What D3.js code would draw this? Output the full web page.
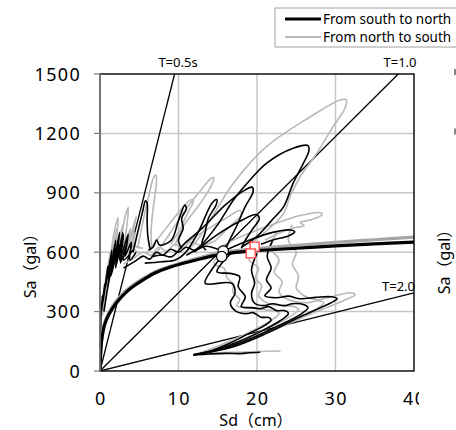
<!DOCTYPE html>
<html lang="en">
<head>
  <meta charset="UTF-8" />
  <title>Capacity spectrum</title>
  <script src="https://d3js.org/d3.v7.min.js"></script>
  <style>
    body { margin: 0; background: #fff; }
    svg { display: block; font-family: "Noto Sans", "Noto Sans CJK JP", sans-serif; }
    .grid line { stroke: #c6c6c6; stroke-width: 1.5; }
    .thin { fill: none; stroke-width: 1.6; stroke-linejoin: round; }
    .num { letter-spacing: 1.3px; }
  </style>
</head>
<body>
  <svg width="456" height="430"></svg>
  <script>
    // Axis ticks
    const sdTicks = [0, 10, 20, 30, 40];
    const saTicks = [0, 300, 600, 900, 1200, 1500];

    // Constant-period lines (s) and their labels
    const periods = [0.5, 1.0, 2.0];
    const periodLabels = ["T=0.5s", "T=1.0", "T=2.0"];

    // Capacity curves [Sd cm, Sa gal]
    const capSouthNorth = [[0,0],[0.2,150],[0.6,235],[1.2,290],[2,340],[3,385],[4,420],[5.5,460],[7,495],[9,525],[11,548],[13,568],[15.6,590],[20,608],[25,620],[30,632],[35,642],[40,651]];
    const capNorthSouth = [[0,0],[0.2,160],[0.6,245],[1.2,300],[2,350],[3,395],[4,428],[5.5,468],[7,500],[9,530],[11,553],[13,575],[15.6,600],[20,618],[25,635],[30,650],[35,663],[40,676]];

    // Response traces, south to north (black)
    const blackTraces = [
      [[0,0],[0.05,120],[0.1,260],[0.15,330],[0.05,250],[0.3,380],[0.2,300],[0.6,440],[0.4,350],[1.0,530],[0.7,420],[1.5,610],[1.1,470],[2.0,660],[1.5,500],[2.5,700],[2.0,530],[3.0,690],[2.6,545],[3.4,640],[3.0,560],[4.2,610]],
      [[0.5,300],[1.2,480],[0.9,400],[1.8,600],[1.4,480],[2.4,640],[2.0,520],[2.9,700],[2.5,560],[3.6,690],[3.2,580],[4.0,650],[3.8,560],[4.6,600]],
      [[3,520],[4.5,555],[5.5,580],[6.3,565],[7.2,600],[8,585],[9,615],[10,600],[11,625],[12,610],[13.5,630],[15,615]],
      [[4.2,600],[4.8,700],[5.4,800],[5.8,860],[6.0,850],[6.0,760],[6.1,680],[6.4,610]],
      [[6.2,611],[6.8,628],[7.2,662],[7.6,636],[9.1,662],[10.0,760],[10.8,838],[11.0,820],[10.4,770],[10.6,720],[10.0,660],[10.4,620]],
      [[5.7,545],[7.9,552],[9.6,561],[10.8,594],[12.5,700],[14.3,850],[14.9,865],[14.8,840],[13.8,770],[13.4,700],[13.0,640],[13.5,610]],
      [[6.6,577],[7.9,586],[9.1,577],[10.8,645],[13,720],[16,840],[18.5,915],[19.4,928],[19.5,905],[18.5,830],[17.5,740],[16.5,660],[16.0,615]],
      [[12,600],[15,690],[18,760],[19.9,790],[20.3,770],[19.5,720],[18.5,660],[18.0,620]],
      [[11,585],[12.7,628],[15,740],[17,864],[19,960],[21.2,1049],[24.6,1125],[26.5,1138],[26.6,1110],[25.9,1049],[24.6,948],[23.4,830],[21.9,762],[20,680],[18,625]],
      [[16,610],[19,660],[22,700],[24.3,712],[24.8,703],[24,682],[22,662],[20.5,640]],
      [[16.0,600],[14.2,510],[13.4,443],[16.8,443],[17.2,393],[16.6,343],[17.4,300],[18.7,290],[19.5,295],[20.5,272],[21.5,270],[21.8,258],[21.0,230],[19.0,190],[16.5,140],[14,100],[11.9,82]],
      [[16.8,600],[14.9,501],[16.6,493],[17.8,476],[17.6,426],[18.5,375],[18.0,325],[19.3,320],[20.5,315],[21.5,325],[22.5,305],[23.5,305],[24.0,290],[23,255],[20.5,200],[17.5,145],[14.5,105],[11.9,82]],
      [[20,594],[19.3,510],[19.7,443],[19.3,392],[19.7,342],[20.8,330],[22,340],[23.5,330],[24.5,340],[26,335],[26.5,320],[25.5,285],[22.5,225],[19,160],[15.5,110],[11.9,82]],
      [[22,660],[21.3,580],[21.8,520],[21.2,460],[21.8,420],[21,380],[22.5,370],[24,378],[25.5,365],[27.5,372],[29.5,375],[30.2,365],[29.3,342],[25.5,274],[21.2,190],[17,123],[11.9,81]],
      [[11.9,81],[14,86],[16,89],[18,88],[19,92],[20.4,95]]
    ];

    // Response traces, north to south (grey)
    const greyTraces = [
      [[0,0],[0.1,200],[0.2,320],[0.1,260],[0.5,420],[0.3,340],[0.9,520],[0.6,420],[1.3,600],[0.9,460],[1.8,700],[2.3,775],[2.2,700],[1.8,540],[2.6,650],[3.2,780],[3.6,825],[3.5,760],[3.1,600],[3.8,640],[4.5,700],[4.2,620],[5.0,600]],
      [[0.3,280],[0.8,450],[0.6,380],[1.6,640],[1.2,500],[2.1,720],[1.8,560],[2.9,740],[2.4,580],[3.9,720],[3.4,600],[4.6,780],[4.2,640],[5.5,620]],
      [[3,540],[4.5,575],[5.5,600],[6.5,585],[7.5,625],[8.5,605],[9.5,640],[10.5,620],[11.5,650],[13,635],[14.5,655]],
      [[4.8,620],[5.5,760],[6.2,880],[6.8,975],[7.1,990],[7.2,960],[6.9,860],[6.6,760],[6.5,680],[6.6,620]],
      [[6,600],[8,700],[10,800],[11.6,865],[11.9,860],[11.2,800],[10.5,740],[10,680],[9.5,630]],
      [[7,585],[9,700],[11,820],[13,920],[14.2,975],[14.5,975],[14.1,930],[13,860],[11.5,780],[10,700],[9,640]],
      [[10,620],[13,700],[16,770],[17.8,810],[18,790],[16.8,740],[15.5,690],[14.5,650]],
      [[11,600],[12.7,678],[17,948],[21.2,1133],[26.8,1284],[30.6,1369],[31.4,1369],[31.2,1327],[29.7,1234],[27.6,1099],[25.5,981],[24.2,880],[23.4,796],[21,700],[19,640]],
      [[15,620],[18,680],[22,740],[25.5,785],[28,800],[28.3,790],[27,765],[25.5,750],[26,735],[24.5,720],[23,700],[21,660]],
      [[15.5,610],[14.5,540],[15.8,520],[16.2,470],[17.0,440],[16.9,400],[17.8,360],[17.4,330],[18.6,320],[19.8,318],[21,310],[22.3,305],[22.8,290],[21.8,255],[19.5,205],[16.5,150],[14,110],[12.2,85]],
      [[19.5,640],[19.0,560],[20.2,520],[19.8,470],[20.6,430],[20.2,380],[21.0,350],[22,335],[23.5,330],[24.8,325],[25.3,310],[24,270],[21,210],[17.5,150],[14.5,108],[12.2,85]],
      [[22.5,700],[21.8,620],[22.8,560],[22.2,500],[23.2,450],[22.8,400],[23.5,370],[25,350],[26.5,345],[27.8,355],[28.5,345],[27.5,310],[24,245],[20,180],[16,125],[12.2,85]],
      [[24.5,740],[24,660],[25,600],[24.5,540],[25.3,480],[25,420],[26,380],[27.5,360],[29,370],[30.5,385],[32,395],[32.5,385],[31,355],[27,290],[22,205],[17,130],[12.2,85]],
      [[12.2,85],[15,92],[18,95],[20,98],[23,101]]
    ];

    // Performance points
    const circlePoints = [[15.7,606],[15.5,578]];
    const squarePoints = [[19.7,628],[19.2,594]];

    const svg = d3.select("svg");
    const mLeft = 100, mRight = 414, mTop = 74, mBottom = 371;

    const x = d3.scaleLinear().domain([0, 40]).range([mLeft, mRight]);
    const y = d3.scaleLinear().domain([0, 1500]).range([mBottom, mTop]);

    svg.append("defs").append("clipPath").attr("id", "plot")
      .append("rect").attr("x", mLeft).attr("y", mTop)
      .attr("width", mRight - mLeft).attr("height", mBottom - mTop);

    // Grid lines
    const grid = svg.append("g").attr("class", "grid");
    grid.selectAll("line.v").data(sdTicks.slice(1, -1)).enter().append("line")
      .attr("x1", d => x(d)).attr("x2", d => x(d)).attr("y1", mTop).attr("y2", mBottom);
    grid.selectAll("line.h").data(saTicks.slice(1, -1)).enter().append("line")
      .attr("x1", mLeft).attr("x2", mRight).attr("y1", d => y(d)).attr("y2", d => y(d));

    const plot = svg.append("g").attr("clip-path", "url(#plot)");

    // Period lines: Sa = (2*pi/T)^2 * Sd
    periods.forEach(T => {
      const w2 = Math.pow(2 * Math.PI / T, 2);
      const sdEnd = Math.min(40, 1500 / w2);
      plot.append("line")
        .attr("x1", x(0)).attr("y1", y(0))
        .attr("x2", x(sdEnd)).attr("y2", y(sdEnd * w2))
        .attr("stroke", "#000").attr("stroke-width", 1.3);
    });

    const line = d3.line()
      .x(d => x(d[0])).y(d => y(d[1]))
      .curve(d3.curveCatmullRom.alpha(0.5));

    plot.selectAll("path.grey").data(greyTraces).enter().append("path")
      .attr("class", "thin").attr("stroke", "#b8b8b8").attr("d", line);
    plot.selectAll("path.black").data(blackTraces).enter().append("path")
      .attr("class", "thin").attr("stroke", "#000").attr("d", line);

    // Capacity curves
    plot.append("path").datum(capNorthSouth).attr("fill", "none")
      .attr("stroke", "#a6a6a6").attr("stroke-width", 3.2).attr("d", line);
    plot.append("path").datum(capSouthNorth).attr("fill", "none")
      .attr("stroke", "#000").attr("stroke-width", 3.2).attr("d", line);

    // Markers
    plot.selectAll("circle.pt").data(circlePoints).enter().append("circle")
      .attr("cx", d => x(d[0])).attr("cy", d => y(d[1])).attr("r", 5.2)
      .attr("fill", "#fff").attr("stroke", "#000").attr("stroke-width", 1.2);
    plot.selectAll("rect.pt").data(squarePoints).enter().append("rect")
      .attr("x", d => x(d[0]) - 4.5).attr("y", d => y(d[1]) - 4.5)
      .attr("width", 9).attr("height", 9)
      .attr("fill", "#fff").attr("stroke", "#ff5050").attr("stroke-width", 1.4);

    // Frame
    svg.append("rect").attr("x", mLeft).attr("y", mTop)
      .attr("width", mRight - mLeft).attr("height", mBottom - mTop)
      .attr("fill", "none").attr("stroke", "#000").attr("stroke-width", 1.4);
    svg.append("line").attr("x1", mLeft).attr("x2", mLeft).attr("y1", mTop).attr("y2", mBottom)
      .attr("stroke", "#7f7f7f").attr("stroke-width", 1.6);

    // Y ticks and labels
    svg.selectAll("line.ytick").data(saTicks).enter().append("line")
      .attr("x1", mLeft - 6).attr("x2", mLeft).attr("y1", d => y(d)).attr("y2", d => y(d))
      .attr("stroke", "#7f7f7f").attr("stroke-width", 1.2);
    svg.selectAll("text.ylab").data(saTicks).enter().append("text")
      .attr("class", "num")
      .attr("x", 81).attr("y", d => y(d) + 6.5)
      .attr("text-anchor", "end").attr("font-size", 18).text(d => d);
    svg.selectAll("text.xlab").data(sdTicks).enter().append("text")
      .attr("class", "num")
      .attr("x", d => x(d) + 0.7).attr("y", 405)
      .attr("text-anchor", "middle").attr("font-size", 18).text(d => d);

    // Axis titles
    svg.append("text").attr("x", 256).attr("y", 426).attr("text-anchor", "middle")
      .attr("font-size", 16).text("Sd（cm）");
    svg.append("text").attr("transform", "translate(36,262) rotate(-90)")
      .attr("text-anchor", "middle").attr("font-size", 16).text("Sa（gal）");

    // Period labels
    const labelPos = [[178, 67, "middle"], [400, 67, "middle"], [382, 291, "start"]];
    periodLabels.forEach((t, i) => {
      svg.append("text").attr("x", labelPos[i][0]).attr("y", labelPos[i][1])
        .attr("text-anchor", labelPos[i][2]).attr("font-size", 13).text(t);
    });

    // Neighbouring chart covers the right strip
    svg.append("rect").attr("x", 419).attr("y", 50).attr("width", 40).attr("height", 380).attr("fill", "#fff");
    svg.append("text").attr("transform", "translate(450,258) rotate(-90)")
      .attr("text-anchor", "middle").attr("font-size", 16).text("Sa（gal）");
    // slivers of its tick labels at the edge
    svg.selectAll("line.sliver").data([1500, 1200]).enter().append("line")
      .attr("x1", 455).attr("x2", 455).attr("y1", d => y(d) - 5).attr("y2", d => y(d) + 1)
      .attr("stroke", "#333").attr("stroke-width", 1.2);

    // Legend
    const legend = svg.append("g");
    legend.append("rect").attr("x", 275).attr("y", 8).attr("width", 200).attr("height", 39)
      .attr("fill", "#fff").attr("stroke", "#a0a0a0");
    const legendItems = [["From south to north", "#000", 3], ["From north to south", "#b8b8b8", 2.2]];
    legendItems.forEach((it, i) => {
      legend.append("line").attr("x1", 285).attr("x2", 321)
        .attr("y1", 19 + i * 18).attr("y2", 19 + i * 18)
        .attr("stroke", it[1]).attr("stroke-width", it[2]);
      legend.append("text").attr("x", 323).attr("y", 24 + i * 18)
        .attr("font-size", 13.5).text(it[0]);
    });
  </script>
</body>
</html>
